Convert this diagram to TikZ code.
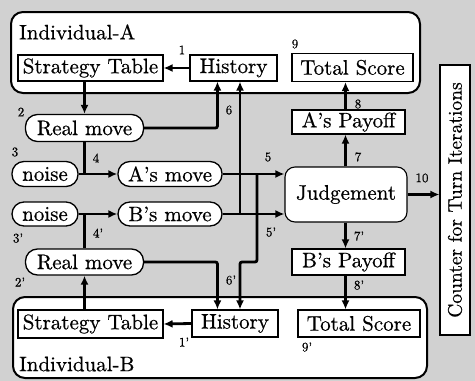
\documentclass[tikz,border=0pt]{standalone}
\usepackage{fontspec}
\setmainfont{lmroman10-regular}[Extension=.otf,FakeBold=0.6]
\usetikzlibrary{arrows.meta,calc}
\begin{document}
\begin{tikzpicture}[x=1pt,y=-1pt,
  txt/.style={font=\fontsize{21}{23}\selectfont},
  box/.style={txt,draw,line width=1.1pt,fill=white,inner sep=0pt},
  pill/.style={box,line width=1.3pt,rounded corners=12pt},
  indiv/.style={draw,line width=2pt,fill=white,rounded corners=12pt,inner sep=0pt},
  lbl/.style={font=\fontsize{13}{14}\selectfont,inner sep=0pt},
  conn/.style={line width=2.8pt,rounded corners=2pt},
  arr/.style={conn,-{Latex[length=9pt,width=8pt]}}]
\useasboundingbox (0,0) rectangle (475,381);
\fill[black!18] (0,0) rectangle (475,381);
% individuals
\node[indiv,minimum width=409pt,minimum height=81pt] (indA) at (215.5,52.5) {};
\node[indiv,minimum width=414pt,minimum height=81pt] (indB) at (220,337.5) {};
\node[txt,anchor=west,inner sep=0pt] (indAl) at (19,32) {Individual-A};
\node[txt,anchor=west,inner sep=0pt] (indBl) at (19,364) {Individual-B};
% boxes
\node[box,minimum width=145pt,minimum height=26pt] (stA) at (90.5,68) {Strategy Table};
\node[box,minimum width=87pt,minimum height=26pt] (hisA) at (233.5,68) {History};
\node[box,minimum width=121pt,minimum height=28pt] (tsA) at (352.5,67.5) {Total Score};
\node[pill,minimum width=118pt,minimum height=27pt] (rmA) at (84.5,128) {Real move};
\node[pill,minimum width=66pt,minimum height=25pt] (nA) at (45,174) {noise};
\node[pill,minimum width=104pt,minimum height=25pt] (amv) at (170,174) {A’s move};
\node[pill,minimum width=66pt,minimum height=24pt] (nB) at (45,214) {noise};
\node[pill,minimum width=104pt,minimum height=24pt] (bmv) at (170,214) {B’s move};
\node[pill,minimum width=118pt,minimum height=26pt] (rmB) at (84.5,262) {Real move};
\node[box,minimum width=145pt,minimum height=28pt] (stB) at (90.5,324) {Strategy Table};
\node[box,minimum width=86pt,minimum height=27pt] (hisB) at (235,323.5) {History};
\node[box,minimum width=122pt,minimum height=27pt] (tsB) at (359,323.5) {Total Score};
\node[box,minimum width=113pt,minimum height=24pt] (aP) at (348.5,122) {A’s Payoff};
\node[box,minimum width=113pt,minimum height=26pt] (bP) at (348.5,262) {B’s Payoff};
\node[box,rounded corners=10pt,minimum width=122pt,minimum height=55pt] (jud) at (346,194.5) {Judgement};
\node[box,font=\fontsize{19.5}{21}\selectfont,rotate=90,minimum width=270pt,minimum height=30pt] (cnt) at (455,200) {Counter for Turn Iterations};
% helper coordinates
\coordinate (v1) at (240,0);
\coordinate (v2) at (257,0);
\coordinate (j) at (345.5,0);
% connectors
\draw[arr] (hisA.west) -- (stA.east);
\draw[arr] (stA.south -| rmA) -- (rmA.north);
\draw[arr] (rmA.east) -| ([xshift=28pt]hisA.south west);
\draw[conn] (rmA.south) -- (rmA.south |- nA.east);
\draw[arr] (nA.east) -- (amv.west);
\draw[arr] (nB.east) -- (bmv.west);
\draw[conn] (rmB.north) -- (rmB.north |- nB.east);
\draw[arr] (stB.north -| rmB) -- (rmB.south);
\draw[arr] (hisB.west) -- (stB.east);
\draw[arr] (rmB.east) -| ([xshift=26pt]hisB.north west);
\draw[arr] (bmv.east -| v1) -- (hisA.south -| v1);
\draw[arr] (amv.east -| v2) -- (v2 |- rmB.east) -- (v1 |- rmB.east) -- (hisB.north -| v1);
\draw[arr] (amv.east) -- (amv.east -| jud.west);
\draw[arr] (bmv.east) -- (bmv.east -| jud.west);
\draw[arr] (jud.north -| j) -- (aP.south -| j);
\draw[arr] (aP.north -| j) -- (tsA.south -| j);
\draw[arr] (jud.south -| j) -- (bP.north -| j);
\draw[arr] (bP.south -| j) -- (tsB.north -| j);
\draw[arr] (jud.east) -- (jud.east -| cnt.north);
% labels
\node[lbl] (l1) at (182,50) {1};
\node[lbl] (l9) at (295,44) {9};
\node[lbl] (l8) at (358,104) {8};
\node[lbl] (l2) at (21,112) {2};
\node[lbl] (l3) at (15,152) {3};
\node[lbl] (l4) at (96,158) {4};
\node[lbl] (l5) at (268,157) {5};
\node[lbl] (l6) at (229,110) {6};
\node[lbl] (l7) at (358,157) {7};
\node[lbl] (l10) at (422,178) {10};
\node[lbl] (l3p) at (18,238) {3’};
\node[lbl] (l4p) at (98,233) {4’};
\node[lbl] (l5p) at (271,232) {5’};
\node[lbl] (l6p) at (231,280) {6’};
\node[lbl] (l7p) at (359,236) {7’};
\node[lbl] (l8p) at (359,285) {8’};
\node[lbl] (l2p) at (20,282) {2’};
\node[lbl] (l1p) at (184,342) {1’};
\node[lbl] (l9p) at (307,347) {9’};
\end{tikzpicture}
\end{document}
